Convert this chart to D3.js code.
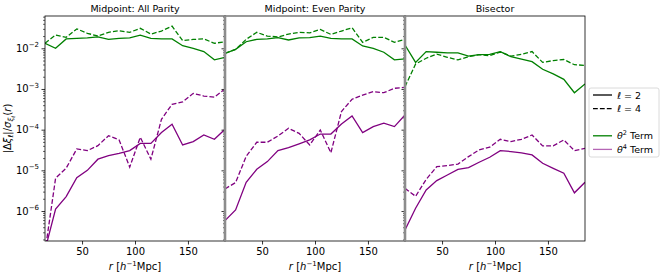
<!DOCTYPE html>
<html>
<head>
<meta charset="utf-8">
<script src="https://cdn.jsdelivr.net/npm/d3@7"></script>
<style>
  body { margin: 0; background: #fff; }
  svg { font-family: "DejaVu Sans", sans-serif; }
  .axis path.domain { display: none; }
  .axis line { stroke: #000; }
</style>
</head>
<body>
<svg id="chart" width="664" height="274"></svg>
<script>
var rVals = [15, 25, 35, 45, 55, 65, 75, 85, 95, 105, 115, 125, 135, 145, 155, 165, 175, 185];
var xTicks = [50, 100, 150];
var yTicks = [1e-6, 1e-5, 1e-4, 1e-3, 1e-2];
var yTickExp = ["\u22126", "\u22125", "\u22124", "\u22123", "\u22122"];
var panelTitles = ["Midpoint: All Parity", "Midpoint: Even Parity", "Bisector"];

// Midpoint: All Parity
var allT2L2 = [0.0133, 0.0100, 0.0170, 0.0175, 0.0180, 0.0190, 0.0165, 0.0175, 0.0180, 0.0210, 0.0175, 0.0170, 0.0170, 0.0116, 0.0100, 0.0083, 0.0052, 0.0060];
var allT2L4 = [0.0133, 0.0212, 0.0186, 0.0300, 0.0234, 0.0200, 0.0247, 0.0270, 0.0247, 0.0310, 0.0224, 0.0266, 0.0350, 0.0154, 0.0165, 0.0170, 0.0133, 0.0145];
var allT4L2 = [1.1e-7, 1.12e-6, 2.26e-6, 6.6e-6, 1.0e-5, 1.88e-5, 2.3e-5, 2.6e-5, 3.05e-5, 4.6e-5, 4.6e-5, 8.5e-5, 1.36e-4, 4.2e-5, 5.1e-5, 7.4e-5, 5.8e-5, 1.02e-4];
var allT4L4 = [1.0e-7, 6.4e-6, 1.13e-5, 3.36e-5, 3.05e-5, 4.05e-5, 7.1e-5, 5.6e-5, 1.2e-5, 6.5e-5, 1.88e-5, 1.8e-4, 4.2e-4, 4.8e-4, 7.8e-4, 6.7e-4, 6.3e-4, 1.0e-3];

// Midpoint: Even Parity
var evenT2L2 = [0.0075, 0.0094, 0.0145, 0.0166, 0.0170, 0.0182, 0.0160, 0.0180, 0.0182, 0.0200, 0.0175, 0.0170, 0.0170, 0.0114, 0.0100, 0.0080, 0.0052, 0.0055];
var evenT2L4 = [0.0075, 0.0094, 0.0166, 0.0247, 0.0200, 0.0190, 0.0224, 0.0247, 0.0240, 0.0290, 0.0220, 0.0266, 0.0320, 0.0140, 0.0186, 0.0186, 0.0140, 0.0166];
var evenT4L2 = [5.8e-7, 1.06e-6, 5.1e-6, 1.06e-5, 1.64e-5, 3.05e-5, 3.6e-5, 4.5e-5, 5.6e-5, 7.8e-5, 7.8e-5, 1.38e-4, 2.17e-4, 8.5e-5, 1.19e-4, 1.44e-4, 1.19e-4, 2.3e-4];
var evenT4L4 = [3.5e-6, 5.0e-6, 2.2e-5, 4.9e-5, 4.9e-5, 7.0e-5, 1.08e-4, 8.1e-5, 4.2e-5, 9.8e-5, 2.7e-5, 2.8e-4, 5.6e-4, 7.1e-4, 8.6e-4, 8.1e-4, 1.04e-3, 1.1e-3];

// Bisector
var bisT2L2 = [0.0120, 0.0045, 0.0083, 0.0080, 0.0077, 0.0077, 0.0064, 0.0070, 0.0071, 0.0083, 0.0062, 0.0054, 0.0047, 0.00305, 0.00234, 0.00173, 0.00081, 0.00133];
var bisT2L4 = [0.00114, 0.0041, 0.0057, 0.0072, 0.0060, 0.0052, 0.0062, 0.0070, 0.0066, 0.0081, 0.0064, 0.0071, 0.0083, 0.0045, 0.0050, 0.0053, 0.00395, 0.0038];
var bisT4L2 = [3.4e-7, 1.17e-6, 3.3e-6, 5.6e-6, 7.7e-6, 1.06e-5, 1.17e-5, 1.58e-5, 2.1e-5, 3.05e-5, 2.9e-5, 2.7e-5, 2.4e-5, 1.49e-5, 1.12e-5, 8.5e-6, 2.8e-6, 5.1e-6];
var bisT4L4 = [3.6e-6, 2.3e-6, 6.0e-6, 1.23e-5, 1.31e-5, 1.43e-5, 2.17e-5, 3.2e-5, 3.7e-5, 5.8e-5, 5.1e-5, 5.8e-5, 7.4e-5, 4.0e-5, 4.0e-5, 5.6e-5, 3.05e-5, 3.45e-5];

var panelSeries = [
  [allT2L2, allT2L4, allT4L2, allT4L4],
  [evenT2L2, evenT2L4, evenT4L2, evenT4L4],
  [bisT2L2, bisT2L4, bisT4L2, bisT4L4]
];
var seriesColor = ["green", "green", "purple", "purple"];
var seriesDash = [null, "4.8,2.1", null, "4.8,2.1"];

var svg = d3.select("#chart");
var marginLeft = 45, marginTop = 16, panelW = 180, panelH = 225, lw = 1.3;

var y = d3.scaleLog().domain([Math.pow(10, -6.737), Math.pow(10, -1.206)]).range([marginTop + panelH, marginTop]);

// minor ticks 2..9 per decade
var minorTicks = [];
for (var e = -7; e <= -2; e++) {
  for (var m = 2; m <= 9; m++) {
    var v = m * Math.pow(10, e);
    if (v > y.domain()[0] && v < y.domain()[1]) minorTicks.push(v);
  }
}

panelSeries.forEach(function(series, p) {
  var x0 = marginLeft + p * panelW;
  var x = d3.scaleLinear().domain([15, 185]).range([x0, x0 + panelW]);

  svg.append("defs").append("clipPath").attr("id", "clip" + p)
    .append("rect").attr("x", x0).attr("y", marginTop).attr("width", panelW).attr("height", panelH);

  var line = d3.line()
    .x(function(d, i) { return x(rVals[i]); })
    .y(function(d) { return y(d); });

  var g = svg.append("g").attr("clip-path", "url(#clip" + p + ")");
  series.forEach(function(s, i) {
    g.append("path")
      .datum(s)
      .attr("d", line)
      .attr("fill", "none")
      .attr("stroke", seriesColor[i])
      .attr("stroke-width", lw)
      .attr("stroke-dasharray", seriesDash[i]);
  });

  // frame
  svg.append("rect")
    .attr("x", x0).attr("y", marginTop).attr("width", panelW).attr("height", panelH)
    .attr("fill", "none").attr("stroke", "#000").attr("stroke-width", 0.8);

  // x axis
  var xa = svg.append("g").attr("class", "axis")
    .attr("transform", "translate(0," + (marginTop + panelH) + ")")
    .call(d3.axisBottom(x).tickValues(xTicks).tickSize(3.5).tickPadding(3));
  xa.selectAll("line").attr("stroke-width", 0.8);
  xa.selectAll("text").attr("font-size", 10).attr("fill", "#000").attr("font-family", "DejaVu Sans");

  // x label
  var xl = svg.append("text")
    .attr("x", x0 + panelW / 2).attr("y", marginTop + panelH + 29)
    .attr("text-anchor", "middle").attr("font-size", 10);
  xl.append("tspan").attr("font-style", "italic").text("r");
  xl.append("tspan").text(" [");
  xl.append("tspan").attr("font-style", "italic").text("h");
  xl.append("tspan").attr("font-size", 7).attr("dy", -4).text("\u22121");
  xl.append("tspan").attr("dy", 4).text("Mpc]");

  // y ticks
  var ya = svg.append("g").attr("class", "axis")
    .attr("transform", "translate(" + x0 + ",0)")
    .call(d3.axisLeft(y).tickValues(yTicks).tickSize(3.5).tickFormat(""));
  ya.selectAll("line").attr("stroke-width", 0.8);
  var ym = svg.append("g").attr("class", "axis")
    .attr("transform", "translate(" + x0 + ",0)")
    .call(d3.axisLeft(y).tickValues(minorTicks).tickSize(2).tickFormat(""));
  ym.selectAll("line").attr("stroke-width", 0.6);

  if (p > 0) {
    svg.append("line")
      .attr("x1", x0).attr("x2", x0).attr("y1", marginTop).attr("y2", marginTop + panelH)
      .attr("stroke", "#8c8c8c").attr("stroke-width", 2.6);
  }

  svg.append("text")
    .attr("x", x0 + panelW / 2).attr("y", marginTop - 4.5)
    .attr("text-anchor", "middle").attr("font-size", 9.5)
    .text(panelTitles[p]);
});

// y tick labels (panel 1 only)
yTicks.forEach(function(t, i) {
  var tx = svg.append("text")
    .attr("x", marginLeft - 6).attr("y", y(t) + 3.5)
    .attr("text-anchor", "end").attr("font-size", 10);
  tx.append("tspan").text("10");
  tx.append("tspan").attr("font-size", 7).attr("dy", -4.5).text(yTickExp[i]);
});

// y label
var yl = svg.append("text")
  .attr("transform", "translate(11," + (marginTop + panelH / 2) + ") rotate(-90)")
  .attr("text-anchor", "middle").attr("font-size", 10);
yl.append("tspan").text("|\u0394");
yl.append("tspan").attr("font-style", "italic").text("\u03be");
yl.append("tspan").attr("font-style", "italic").attr("font-size", 7).attr("dy", 2).text("\u2113");
yl.append("tspan").attr("dy", -2).text("|/");
yl.append("tspan").attr("font-style", "italic").text("\u03c3");
yl.append("tspan").attr("font-style", "italic").attr("font-size", 7).attr("dy", 2).text("\u03be");
yl.append("tspan").attr("font-style", "italic").attr("font-size", 5).attr("dy", 1.5).text("\u2113");
yl.append("tspan").attr("dy", -3.5).text("(");
yl.append("tspan").attr("font-style", "italic").text("r");
yl.append("tspan").text(")");

// legend
var legendItems = [
  {label: ["\u2113", " = 2"], color: "#000", dash: null, row: 0},
  {label: ["\u2113", " = 4"], color: "#000", dash: "4.8,2.1", row: 1},
  {label: ["\u03b8", "2", " Term"], color: "green", dash: null, row: 3},
  {label: ["\u03b8", "4", " Term"], color: "#b566b5", dash: null, row: 4}
];
var lg = svg.append("g").attr("transform", "translate(589,88)");
lg.append("rect")
  .attr("width", 70).attr("height", 69).attr("rx", 2)
  .attr("fill", "#fff").attr("fill-opacity", 0.8)
  .attr("stroke", "#d0d0d0").attr("stroke-width", 0.8);
legendItems.forEach(function(d) {
  var ly = 7 + d.row * 13.6;
  lg.append("line")
    .attr("x1", 4).attr("x2", 23).attr("y1", ly).attr("y2", ly)
    .attr("stroke", d.color).attr("stroke-width", lw)
    .attr("stroke-dasharray", d.dash);
  var t = lg.append("text").attr("x", 28).attr("y", ly + 3.5).attr("font-size", 9.5);
  t.append("tspan").attr("font-style", "italic").text(d.label[0]);
  if (d.label.length === 3) {
    t.append("tspan").attr("font-size", 6.5).attr("dy", -4).text(d.label[1]);
    t.append("tspan").attr("dy", 4).text(d.label[2]);
  } else {
    t.append("tspan").text(d.label[1]);
  }
});
</script>
</body>
</html>
